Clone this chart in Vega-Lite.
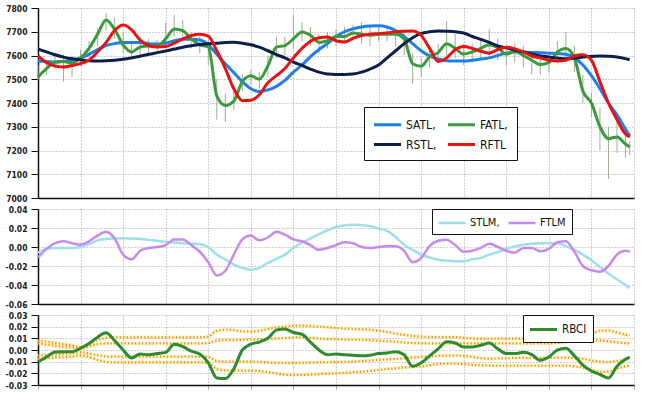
{
"$schema": "https://vega.github.io/schema/vega-lite/v6.json",
"padding": {"left": 4, "top": 4, "right": 0, "bottom": 0},
"background": "white",
"data": {"name": "d"},
"datasets": {"d": [
{"u":0,"lo":7495,"hi":7560,"SATL":7577,"FATL":7510,"RSTL":7627,"RFTL":7598,"STLM":-0.006,"FTLM":-0.011,"RBCI":-0.0103,"b1":0.008,"b2":0.0056,"b3":-0.0049,"b4":-0.0077},
{"u":2,"lo":7520,"hi":7580,"SATL":7575,"FATL":7545,"RSTL":7615,"RFTL":7570,"STLM":-0.002,"FTLM":-0.002,"RBCI":-0.006,"b1":0.0072,"b2":0.0045,"b3":-0.0044,"b4":-0.0072},
{"u":4,"lo":7545,"hi":7600,"SATL":7573,"FATL":7572,"RSTL":7603,"RFTL":7556,"STLM":-0.001,"FTLM":0.004,"RBCI":-0.0017,"b1":0.006,"b2":0.0035,"b3":-0.0038,"b4":-0.0066},
{"u":6,"lo":7490,"hi":7605,"SATL":7575,"FATL":7575,"RSTL":7593,"RFTL":7552,"STLM":-0.001,"FTLM":0.006,"RBCI":-0.0015,"b1":0.005,"b2":0.0027,"b3":-0.0034,"b4":-0.0062},
{"u":8,"lo":7510,"hi":7600,"SATL":7580,"FATL":7568,"RSTL":7586,"RFTL":7558,"STLM":-0.001,"FTLM":0.004,"RBCI":-0.0015,"b1":0.004,"b2":0.002,"b3":-0.0028,"b4":-0.0056},
{"u":10,"lo":7555,"hi":7625,"SATL":7590,"FATL":7590,"RSTL":7582,"RFTL":7566,"STLM":0.0,"FTLM":0.0025,"RBCI":0.0015,"b1":0.0025,"b2":0.0013,"b3":-0.002,"b4":-0.0049},
{"u":12,"lo":7590,"hi":7660,"SATL":7605,"FATL":7630,"RSTL":7578,"RFTL":7580,"STLM":0.003,"FTLM":0.006,"RBCI":0.0055,"b1":0.005,"b2":0.003,"b3":-0.003,"b4":-0.006},
{"u":14,"lo":7640,"hi":7715,"SATL":7625,"FATL":7690,"RSTL":7577,"RFTL":7615,"STLM":0.007,"FTLM":0.012,"RBCI":0.011,"b1":0.0085,"b2":0.005,"b3":-0.0045,"b4":-0.0085},
{"u":16,"lo":7705,"hi":7780,"SATL":7642,"FATL":7750,"RSTL":7578,"RFTL":7655,"STLM":0.0085,"FTLM":0.016,"RBCI":0.0148,"b1":0.0105,"b2":0.0056,"b3":-0.0055,"b4":-0.0102},
{"u":18,"lo":7670,"hi":7760,"SATL":7650,"FATL":7710,"RSTL":7580,"RFTL":7705,"STLM":0.009,"FTLM":0.009,"RBCI":0.008,"b1":0.0109,"b2":0.0056,"b3":-0.0057,"b4":-0.0106},
{"u":20,"lo":7610,"hi":7700,"SATL":7655,"FATL":7645,"RSTL":7584,"RFTL":7728,"STLM":0.0093,"FTLM":-0.008,"RBCI":0.0,"b1":0.0109,"b2":0.0056,"b3":-0.0057,"b4":-0.0106},
{"u":22,"lo":7580,"hi":7660,"SATL":7655,"FATL":7615,"RSTL":7590,"RFTL":7708,"STLM":0.009,"FTLM":-0.013,"RBCI":-0.0068,"b1":0.0109,"b2":0.0056,"b3":-0.0057,"b4":-0.0106},
{"u":24,"lo":7600,"hi":7680,"SATL":7655,"FATL":7636,"RSTL":7597,"RFTL":7665,"STLM":0.0085,"FTLM":-0.004,"RBCI":-0.0035,"b1":0.0109,"b2":0.0056,"b3":-0.0057,"b4":-0.0106},
{"u":26,"lo":7600,"hi":7670,"SATL":7650,"FATL":7640,"RSTL":7605,"RFTL":7642,"STLM":0.0075,"FTLM":-0.001,"RBCI":-0.004,"b1":0.0109,"b2":0.0056,"b3":-0.0057,"b4":-0.0106},
{"u":28,"lo":7610,"hi":7665,"SATL":7648,"FATL":7640,"RSTL":7612,"RFTL":7636,"STLM":0.0065,"FTLM":0.0,"RBCI":-0.003,"b1":0.0109,"b2":0.0056,"b3":-0.0057,"b4":-0.0106},
{"u":30,"lo":7630,"hi":7740,"SATL":7652,"FATL":7670,"RSTL":7619,"RFTL":7638,"STLM":0.0055,"FTLM":0.002,"RBCI":-0.002,"b1":0.0109,"b2":0.0056,"b3":-0.0057,"b4":-0.0106},
{"u":32,"lo":7680,"hi":7770,"SATL":7662,"FATL":7712,"RSTL":7627,"RFTL":7652,"STLM":0.0048,"FTLM":0.008,"RBCI":0.005,"b1":0.0109,"b2":0.0056,"b3":-0.0057,"b4":-0.0106},
{"u":34,"lo":7660,"hi":7750,"SATL":7668,"FATL":7705,"RSTL":7635,"RFTL":7669,"STLM":0.004,"FTLM":0.008,"RBCI":0.003,"b1":0.0109,"b2":0.0056,"b3":-0.0057,"b4":-0.0106},
{"u":36,"lo":7630,"hi":7700,"SATL":7668,"FATL":7670,"RSTL":7641,"RFTL":7684,"STLM":0.0035,"FTLM":0.002,"RBCI":-0.001,"b1":0.0109,"b2":0.0056,"b3":-0.0057,"b4":-0.0106},
{"u":38,"lo":7610,"hi":7680,"SATL":7665,"FATL":7645,"RSTL":7646,"RFTL":7690,"STLM":0.003,"FTLM":-0.005,"RBCI":-0.0035,"b1":0.0109,"b2":0.0056,"b3":-0.0057,"b4":-0.0106},
{"u":40,"lo":7560,"hi":7670,"SATL":7645,"FATL":7636,"RSTL":7649,"RFTL":7682,"STLM":0.0,"FTLM":-0.016,"RBCI":-0.011,"b1":0.0115,"b2":0.006,"b3":-0.006,"b4":-0.011},
{"u":42,"lo":7330,"hi":7500,"SATL":7605,"FATL":7430,"RSTL":7652,"RFTL":7620,"STLM":-0.008,"FTLM":-0.03,"RBCI":-0.024,"b1":0.0165,"b2":0.008,"b3":-0.0095,"b4":-0.0163},
{"u":44,"lo":7320,"hi":7440,"SATL":7565,"FATL":7390,"RSTL":7655,"RFTL":7545,"STLM":-0.013,"FTLM":-0.025,"RBCI":-0.0245,"b1":0.0174,"b2":0.0085,"b3":-0.01,"b4":-0.0175},
{"u":46,"lo":7370,"hi":7450,"SATL":7528,"FATL":7408,"RSTL":7656,"RFTL":7460,"STLM":-0.0186,"FTLM":-0.008,"RBCI":-0.016,"b1":0.017,"b2":0.0085,"b3":-0.01,"b4":-0.0177},
{"u":48,"lo":7450,"hi":7520,"SATL":7490,"FATL":7490,"RSTL":7652,"RFTL":7410,"STLM":-0.022,"FTLM":0.008,"RBCI":0.0,"b1":0.016,"b2":0.0088,"b3":-0.01,"b4":-0.0177},
{"u":50,"lo":7480,"hi":7540,"SATL":7460,"FATL":7515,"RSTL":7645,"RFTL":7412,"STLM":-0.024,"FTLM":0.012,"RBCI":0.005,"b1":0.0157,"b2":0.009,"b3":-0.01,"b4":-0.0177},
{"u":52,"lo":7460,"hi":7530,"SATL":7448,"FATL":7500,"RSTL":7635,"RFTL":7435,"STLM":-0.022,"FTLM":0.007,"RBCI":0.0068,"b1":0.0165,"b2":0.0092,"b3":-0.0103,"b4":-0.018},
{"u":54,"lo":7510,"hi":7600,"SATL":7455,"FATL":7556,"RSTL":7620,"RFTL":7485,"STLM":-0.0168,"FTLM":0.01,"RBCI":0.01,"b1":0.018,"b2":0.0094,"b3":-0.0106,"b4":-0.019},
{"u":56,"lo":7590,"hi":7680,"SATL":7470,"FATL":7635,"RSTL":7604,"RFTL":7515,"STLM":-0.0125,"FTLM":0.016,"RBCI":0.017,"b1":0.0193,"b2":0.0098,"b3":-0.011,"b4":-0.02},
{"u":58,"lo":7600,"hi":7680,"SATL":7495,"FATL":7642,"RSTL":7590,"RFTL":7545,"STLM":-0.008,"FTLM":0.013,"RBCI":0.018,"b1":0.02,"b2":0.0103,"b3":-0.0111,"b4":-0.0212},
{"u":60,"lo":7630,"hi":7770,"SATL":7530,"FATL":7670,"RSTL":7572,"RFTL":7590,"STLM":-0.001,"FTLM":0.008,"RBCI":0.015,"b1":0.0208,"b2":0.0107,"b3":-0.0111,"b4":-0.0214},
{"u":62,"lo":7660,"hi":7740,"SATL":7560,"FATL":7699,"RSTL":7558,"RFTL":7630,"STLM":0.0045,"FTLM":0.006,"RBCI":0.0135,"b1":0.0209,"b2":0.0109,"b3":-0.011,"b4":-0.0213},
{"u":64,"lo":7640,"hi":7720,"SATL":7595,"FATL":7685,"RSTL":7543,"RFTL":7660,"STLM":0.009,"FTLM":0.002,"RBCI":0.0068,"b1":0.0205,"b2":0.0105,"b3":-0.0108,"b4":-0.021},
{"u":66,"lo":7610,"hi":7690,"SATL":7625,"FATL":7655,"RSTL":7530,"RFTL":7675,"STLM":0.0135,"FTLM":-0.003,"RBCI":0.0,"b1":0.02,"b2":0.0098,"b3":-0.0106,"b4":-0.0206},
{"u":68,"lo":7630,"hi":7700,"SATL":7650,"FATL":7662,"RSTL":7522,"RFTL":7678,"STLM":0.0175,"FTLM":-0.001,"RBCI":-0.004,"b1":0.0195,"b2":0.0094,"b3":-0.0105,"b4":-0.0203},
{"u":70,"lo":7640,"hi":7710,"SATL":7680,"FATL":7680,"RSTL":7520,"RFTL":7662,"STLM":0.021,"FTLM":0.002,"RBCI":-0.0035,"b1":0.0188,"b2":0.0092,"b3":-0.0103,"b4":-0.02},
{"u":72,"lo":7650,"hi":7720,"SATL":7700,"FATL":7680,"RSTL":7520,"RFTL":7657,"STLM":0.023,"FTLM":0.005,"RBCI":-0.004,"b1":0.0182,"b2":0.009,"b3":-0.0101,"b4":-0.0196},
{"u":74,"lo":7660,"hi":7730,"SATL":7712,"FATL":7695,"RSTL":7522,"RFTL":7672,"STLM":0.0235,"FTLM":0.004,"RBCI":-0.0045,"b1":0.018,"b2":0.0088,"b3":-0.01,"b4":-0.0191},
{"u":76,"lo":7650,"hi":7740,"SATL":7720,"FATL":7690,"RSTL":7530,"RFTL":7684,"STLM":0.0232,"FTLM":0.0,"RBCI":-0.005,"b1":0.0177,"b2":0.0088,"b3":-0.0095,"b4":-0.0186},
{"u":78,"lo":7640,"hi":7720,"SATL":7724,"FATL":7685,"RSTL":7543,"RFTL":7690,"STLM":0.022,"FTLM":-0.001,"RBCI":-0.0045,"b1":0.0174,"b2":0.0085,"b3":-0.009,"b4":-0.018},
{"u":80,"lo":7660,"hi":7725,"SATL":7725,"FATL":7690,"RSTL":7560,"RFTL":7692,"STLM":0.0195,"FTLM":0.0,"RBCI":-0.003,"b1":0.0165,"b2":0.008,"b3":-0.0085,"b4":-0.017},
{"u":82,"lo":7660,"hi":7720,"SATL":7720,"FATL":7690,"RSTL":7590,"RFTL":7695,"STLM":0.017,"FTLM":0.0007,"RBCI":-0.0025,"b1":0.0155,"b2":0.0075,"b3":-0.008,"b4":-0.0163},
{"u":84,"lo":7640,"hi":7710,"SATL":7705,"FATL":7690,"RSTL":7620,"RFTL":7700,"STLM":0.0105,"FTLM":0.0007,"RBCI":-0.0015,"b1":0.014,"b2":0.007,"b3":-0.0077,"b4":-0.0157},
{"u":86,"lo":7600,"hi":7700,"SATL":7680,"FATL":7670,"RSTL":7650,"RFTL":7702,"STLM":0.0024,"FTLM":-0.004,"RBCI":-0.004,"b1":0.013,"b2":0.0065,"b3":-0.007,"b4":-0.015},
{"u":88,"lo":7480,"hi":7610,"SATL":7650,"FATL":7565,"RSTL":7675,"RFTL":7703,"STLM":-0.003,"FTLM":-0.016,"RBCI":-0.014,"b1":0.012,"b2":0.006,"b3":-0.0065,"b4":-0.0146},
{"u":90,"lo":7510,"hi":7590,"SATL":7620,"FATL":7555,"RSTL":7693,"RFTL":7685,"STLM":-0.008,"FTLM":-0.0116,"RBCI":-0.011,"b1":0.0115,"b2":0.0058,"b3":-0.006,"b4":-0.014},
{"u":92,"lo":7550,"hi":7640,"SATL":7598,"FATL":7595,"RSTL":7700,"RFTL":7630,"STLM":-0.011,"FTLM":0.001,"RBCI":-0.005,"b1":0.011,"b2":0.0056,"b3":-0.0055,"b4":-0.013},
{"u":94,"lo":7570,"hi":7650,"SATL":7585,"FATL":7612,"RSTL":7703,"RFTL":7575,"STLM":-0.0134,"FTLM":0.0065,"RBCI":0.001,"b1":0.011,"b2":0.0056,"b3":-0.005,"b4":-0.012},
{"u":96,"lo":7600,"hi":7745,"SATL":7578,"FATL":7650,"RSTL":7702,"RFTL":7590,"STLM":-0.0145,"FTLM":0.0077,"RBCI":0.007,"b1":0.011,"b2":0.0056,"b3":-0.0048,"b4":-0.0117},
{"u":98,"lo":7590,"hi":7690,"SATL":7577,"FATL":7630,"RSTL":7700,"RFTL":7625,"STLM":-0.015,"FTLM":0.002,"RBCI":0.006,"b1":0.011,"b2":0.0056,"b3":-0.0047,"b4":-0.0117},
{"u":100,"lo":7560,"hi":7650,"SATL":7577,"FATL":7606,"RSTL":7695,"RFTL":7638,"STLM":-0.015,"FTLM":-0.005,"RBCI":0.0026,"b1":0.0105,"b2":0.0056,"b3":-0.005,"b4":-0.012},
{"u":102,"lo":7570,"hi":7650,"SATL":7580,"FATL":7615,"RSTL":7680,"RFTL":7630,"STLM":-0.013,"FTLM":-0.004,"RBCI":0.0026,"b1":0.01,"b2":0.0056,"b3":-0.006,"b4":-0.0128},
{"u":104,"lo":7590,"hi":7670,"SATL":7585,"FATL":7630,"RSTL":7668,"RFTL":7618,"STLM":-0.0116,"FTLM":-0.001,"RBCI":0.004,"b1":0.0097,"b2":0.0056,"b3":-0.007,"b4":-0.0131},
{"u":106,"lo":7600,"hi":7710,"SATL":7590,"FATL":7645,"RSTL":7655,"RFTL":7610,"STLM":-0.008,"FTLM":0.0035,"RBCI":0.006,"b1":0.0097,"b2":0.0056,"b3":-0.0074,"b4":-0.0133},
{"u":108,"lo":7580,"hi":7670,"SATL":7600,"FATL":7633,"RSTL":7640,"RFTL":7625,"STLM":-0.0055,"FTLM":0.0,"RBCI":0.001,"b1":0.0097,"b2":0.0056,"b3":-0.0072,"b4":-0.0135},
{"u":110,"lo":7560,"hi":7640,"SATL":7610,"FATL":7606,"RSTL":7632,"RFTL":7635,"STLM":-0.002,"FTLM":-0.004,"RBCI":-0.003,"b1":0.0097,"b2":0.0056,"b3":-0.007,"b4":-0.0135},
{"u":112,"lo":7570,"hi":7650,"SATL":7615,"FATL":7617,"RSTL":7623,"RFTL":7628,"STLM":0.0005,"FTLM":-0.006,"RBCI":-0.003,"b1":0.0097,"b2":0.0056,"b3":-0.0068,"b4":-0.0135},
{"u":114,"lo":7550,"hi":7640,"SATL":7615,"FATL":7600,"RSTL":7615,"RFTL":7615,"STLM":0.0025,"FTLM":-0.001,"RBCI":-0.002,"b1":0.0097,"b2":0.0056,"b3":-0.0068,"b4":-0.0135},
{"u":116,"lo":7520,"hi":7620,"SATL":7613,"FATL":7580,"RSTL":7606,"RFTL":7598,"STLM":0.0035,"FTLM":-0.001,"RBCI":-0.004,"b1":0.0097,"b2":0.0056,"b3":-0.0068,"b4":-0.0135},
{"u":118,"lo":7520,"hi":7600,"SATL":7612,"FATL":7562,"RSTL":7598,"RFTL":7590,"STLM":0.004,"FTLM":-0.0045,"RBCI":-0.0088,"b1":0.0097,"b2":0.0056,"b3":-0.0068,"b4":-0.0135},
{"u":120,"lo":7530,"hi":7610,"SATL":7610,"FATL":7570,"RSTL":7594,"RFTL":7580,"STLM":0.004,"FTLM":-0.002,"RBCI":-0.006,"b1":0.0097,"b2":0.0056,"b3":-0.0068,"b4":-0.0135},
{"u":122,"lo":7570,"hi":7660,"SATL":7608,"FATL":7615,"RSTL":7589,"RFTL":7577,"STLM":0.004,"FTLM":0.005,"RBCI":0.0,"b1":0.0097,"b2":0.006,"b3":-0.0065,"b4":-0.0135},
{"u":124,"lo":7590,"hi":7700,"SATL":7605,"FATL":7630,"RSTL":7586,"RFTL":7580,"STLM":0.001,"FTLM":0.006,"RBCI":0.0015,"b1":0.0097,"b2":0.0068,"b3":-0.0066,"b4":-0.0135},
{"u":126,"lo":7530,"hi":7640,"SATL":7590,"FATL":7590,"RSTL":7588,"RFTL":7598,"STLM":-0.003,"FTLM":-0.005,"RBCI":-0.005,"b1":0.0105,"b2":0.0075,"b3":-0.007,"b4":-0.014},
{"u":128,"lo":7400,"hi":7520,"SATL":7560,"FATL":7450,"RSTL":7594,"RFTL":7603,"STLM":-0.008,"FTLM":-0.02,"RBCI":-0.013,"b1":0.0115,"b2":0.008,"b3":-0.0075,"b4":-0.015},
{"u":130,"lo":7340,"hi":7440,"SATL":7515,"FATL":7400,"RSTL":7596,"RFTL":7580,"STLM":-0.014,"FTLM":-0.0245,"RBCI":-0.018,"b1":0.014,"b2":0.0083,"b3":-0.009,"b4":-0.017},
{"u":132,"lo":7200,"hi":7380,"SATL":7460,"FATL":7300,"RSTL":7598,"RFTL":7490,"STLM":-0.021,"FTLM":-0.026,"RBCI":-0.021,"b1":0.0163,"b2":0.0082,"b3":-0.01,"b4":-0.0189},
{"u":134,"lo":7080,"hi":7300,"SATL":7400,"FATL":7250,"RSTL":7597,"RFTL":7400,"STLM":-0.028,"FTLM":-0.02,"RBCI":-0.024,"b1":0.0168,"b2":0.0075,"b3":-0.0103,"b4":-0.0185},
{"u":136,"lo":7190,"hi":7330,"SATL":7350,"FATL":7257,"RSTL":7594,"RFTL":7330,"STLM":-0.034,"FTLM":-0.008,"RBCI":-0.014,"b1":0.015,"b2":0.0065,"b3":-0.0095,"b4":-0.016},
{"u":138,"lo":7170,"hi":7270,"SATL":7290,"FATL":7227,"RSTL":7587,"RFTL":7270,"STLM":-0.04,"FTLM":-0.004,"RBCI":-0.008,"b1":0.0133,"b2":0.0058,"b3":-0.008,"b4":-0.014},
{"u":139,"lo":7180,"hi":7240,"SATL":7262,"FATL":7215,"RSTL":7582,"RFTL":7257,"STLM":-0.043,"FTLM":-0.005,"RBCI":-0.006,"b1":0.0126,"b2":0.0055,"b3":-0.0074,"b4":-0.0131}
]},
"config": {
  "view": {"stroke": null},
  "font": "DejaVu Sans Condensed, Liberation Sans, sans-serif",
  "axis": {"labelFont": "DejaVu Sans Condensed, Liberation Sans, sans-serif", "labelFontSize": 8.5, "labelFontWeight": "bold", "labelColor": "#222", "gridColor": "#8c8c8c", "gridDash": [1, 2], "gridOpacity": 0.8, "domainColor": "#111", "domainWidth": 1.5, "tickColor": "#111", "title": null},
  "axisY": {"tickSize": 7, "labelPadding": 4, "minExtent": 33},
  "axisX": {"labels": false, "ticks": false},
  "legend": {"title": null, "orient": "none", "symbolType": "M-2,0H2", "symbolSize": 182, "symbolOffset": 6, "labelOffset": 10, "labelFont": "DejaVu Sans Condensed, Liberation Sans, sans-serif", "labelFontSize": 12, "labelColor": "#111", "fillColor": "white", "strokeColor": "#111", "padding": 8, "columnPadding": 5, "rowPadding": 5}
},
"spacing": 2,
"resolve": {"scale": {"color": "independent"}, "legend": {"color": "independent"}},
"vconcat": [
  {
    "width": 596, "height": 190,
    "layer": [
      {
        "mark": {"type": "rule", "color": "#a4aa94", "strokeWidth": 1},
        "encoding": {
          "x": {"field": "u", "type": "quantitative", "scale": {"domain": [0, 140], "nice": false, "zero": false}, "axis": {"values": [0,10,20,30,40,50,60,70,80,90,100,110,120,130,140]}},
          "y": {"field": "lo", "type": "quantitative", "scale": {"domain": [7000, 7800], "nice": false, "zero": false}, "axis": {"values": [7000,7100,7200,7300,7400,7500,7600,7700,7800], "format": "d", "labelOverlap": false}},
          "y2": {"field": "hi"}
        }
      },
      {
        "transform": [{"fold": ["SATL", "FATL", "RSTL", "RFTL"], "as": ["series", "value"]}],
        "mark": {"type": "line", "interpolate": "monotone", "strokeWidth": 3},
        "encoding": {
          "x": {"field": "u", "type": "quantitative", "scale": {"domain": [0, 140], "nice": false, "zero": false}, "axis": {"values": [0,10,20,30,40,50,60,70,80,90,100,110,120,130,140]}},
          "y": {"field": "value", "type": "quantitative", "scale": {"domain": [7000, 7800], "nice": false, "zero": false}, "axis": {"values": [7000,7100,7200,7300,7400,7500,7600,7700,7800], "format": "d", "labelOverlap": false}},
          "color": {"field": "series", "type": "nominal",
            "scale": {"domain": ["SATL", "FATL", "RSTL", "RFTL"], "range": ["#1f7fe6", "#3c9a3c", "#0c1f4a", "#e81212"]},
            "legend": {"legendX": 326, "legendY": 99, "direction": "horizontal", "columns": 2, "padding": 9, "symbolStrokeWidth": 3, "labelExpr": "datum.label == 'RFTL' ? datum.label : datum.label + ','"}}
        }
      }
    ]
  },
  {
    "width": 596, "height": 95,
    "transform": [{"fold": ["STLM", "FTLM"], "as": ["series", "value"]}],
    "mark": {"type": "line", "interpolate": "monotone", "strokeWidth": 2.5},
    "encoding": {
      "x": {"field": "u", "type": "quantitative", "scale": {"domain": [0, 140], "nice": false, "zero": false}, "axis": {"values": [0,10,20,30,40,50,60,70,80,90,100,110,120,130,140]}},
      "y": {"field": "value", "type": "quantitative", "scale": {"domain": [-0.06, 0.04], "nice": false, "zero": false}, "axis": {"values": [-0.06,-0.04,-0.02,0,0.02,0.04], "format": ".2f", "labelOverlap": false, "labelExpr": "replace(datum.label, '\u2212', '-')"}},
      "color": {"field": "series", "type": "nominal",
        "scale": {"domain": ["STLM", "FTLM"], "range": ["#9fdfea", "#c48af0"]},
        "legend": {"legendX": 394, "legendY": 0, "direction": "horizontal", "columns": 2, "padding": 6, "columnPadding": 3, "labelFontSize": 11, "symbolStrokeWidth": 2.5, "labelExpr": "datum.label == 'STLM' ? 'STLM,' : datum.label"}}
    }
  },
  {
    "width": 596, "height": 70,
    "layer": [
      {
        "transform": [{"fold": ["b1", "b2", "b3", "b4"], "as": ["band", "bv"]}],
        "mark": {"type": "line", "interpolate": "monotone", "color": "#ffe45c", "strokeWidth": 3.5, "opacity": 0.4},
        "encoding": {
          "x": {"field": "u", "type": "quantitative", "scale": {"domain": [0, 140], "nice": false, "zero": false}, "axis": {"values": [0,10,20,30,40,50,60,70,80,90,100,110,120,130,140], "ticks": true, "tickSize": 4, "tickColor": "#aaa"}},
          "y": {"field": "bv", "type": "quantitative", "scale": {"domain": [-0.03, 0.03], "nice": false, "zero": false}, "axis": {"values": [-0.03,-0.02,-0.01,0,0.01,0.02,0.03], "format": ".2f", "labelOverlap": false, "labelExpr": "replace(datum.label, '\u2212', '-')"}},
          "detail": {"field": "band", "type": "nominal"}
        }
      },
      {
        "transform": [{"fold": ["b1", "b2", "b3", "b4"], "as": ["band", "bv"]}],
        "mark": {"type": "line", "interpolate": "monotone", "color": "#ef861a", "strokeWidth": 2.2, "strokeDash": [1.2, 2.3]},
        "encoding": {
          "x": {"field": "u", "type": "quantitative", "scale": {"domain": [0, 140], "nice": false, "zero": false}, "axis": {"values": [0,10,20,30,40,50,60,70,80,90,100,110,120,130,140], "ticks": true, "tickSize": 4, "tickColor": "#aaa"}},
          "y": {"field": "bv", "type": "quantitative", "scale": {"domain": [-0.03, 0.03], "nice": false, "zero": false}, "axis": {"values": [-0.03,-0.02,-0.01,0,0.01,0.02,0.03], "format": ".2f", "labelOverlap": false, "labelExpr": "replace(datum.label, '\u2212', '-')"}},
          "detail": {"field": "band", "type": "nominal"}
        }
      },
      {
        "transform": [{"fold": ["RBCI"], "as": ["series", "value"]}],
        "mark": {"type": "line", "interpolate": "monotone", "strokeWidth": 3},
        "encoding": {
          "x": {"field": "u", "type": "quantitative", "scale": {"domain": [0, 140], "nice": false, "zero": false}, "axis": {"values": [0,10,20,30,40,50,60,70,80,90,100,110,120,130,140], "ticks": true, "tickSize": 4, "tickColor": "#aaa"}},
          "y": {"field": "value", "type": "quantitative", "scale": {"domain": [-0.03, 0.03], "nice": false, "zero": false}, "axis": {"values": [-0.03,-0.02,-0.01,0,0.01,0.02,0.03], "format": ".2f", "labelOverlap": false, "labelExpr": "replace(datum.label, '\u2212', '-')"}},
          "color": {"field": "series", "type": "nominal",
            "scale": {"domain": ["RBCI"], "range": ["#2e8b2e"]},
            "legend": {"legendX": 485, "legendY": 0, "padding": 6, "labelFontSize": 11.5, "symbolStrokeWidth": 3}}
        }
      }
    ]
  }
]
}
